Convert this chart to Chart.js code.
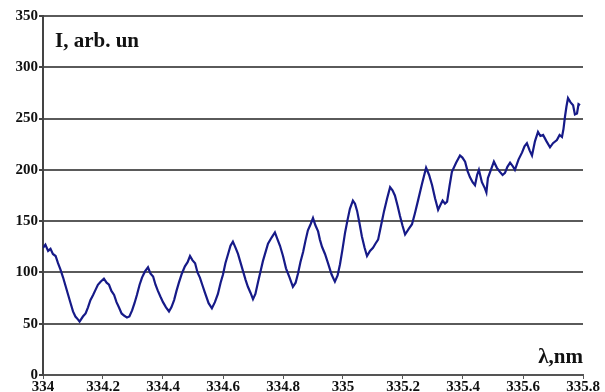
<!DOCTYPE html>
<html>
<head>
<meta charset="utf-8">
<script src="https://cdn.jsdelivr.net/npm/chart.js@4/dist/chart.umd.min.js"></script>
<style>
  html, body { margin: 0; padding: 0; background: #fff; }
  #wrap { width: 605px; height: 392px; }
</style>
</head>
<body>
<div id="wrap"><canvas id="spectrum"></canvas></div>
<script>
// wavelength, nm
const wavelength = [
    334.000, 334.008, 334.017, 334.025, 334.033, 334.042, 334.050, 334.058, 334.067, 334.075,
    334.083, 334.092, 334.100, 334.108, 334.117, 334.122, 334.133, 334.142, 334.150, 334.158,
    334.167, 334.175, 334.183, 334.192, 334.203, 334.212, 334.220, 334.228, 334.237, 334.245,
    334.253, 334.262, 334.270, 334.280, 334.288, 334.297, 334.305, 334.313, 334.322, 334.330,
    334.340, 334.350, 334.358, 334.367, 334.375, 334.383, 334.392, 334.400, 334.410, 334.420,
    334.428, 334.437, 334.445, 334.453, 334.463, 334.473, 334.482, 334.490, 334.498, 334.507,
    334.515, 334.523, 334.532, 334.540, 334.552, 334.563, 334.573, 334.583, 334.592, 334.600,
    334.608, 334.617, 334.625, 334.633, 334.642, 334.650, 334.658, 334.667, 334.675, 334.683,
    334.692, 334.700, 334.708, 334.717, 334.725, 334.733, 334.742, 334.750, 334.762, 334.773,
    334.782, 334.790, 334.800, 334.810, 334.822, 334.833, 334.842, 334.850, 334.858, 334.867,
    334.875, 334.883, 334.892, 334.900, 334.908, 334.917, 334.923, 334.930, 334.940, 334.950,
    334.962, 334.973, 334.982, 334.990, 334.998, 335.007, 335.015, 335.023, 335.033, 335.040,
    335.047, 335.055, 335.063, 335.072, 335.080, 335.090, 335.100, 335.108, 335.117, 335.127,
    335.137, 335.147, 335.157, 335.165, 335.173, 335.182, 335.190, 335.198, 335.207, 335.218,
    335.230, 335.240, 335.250, 335.263, 335.277, 335.287, 335.297, 335.307, 335.317, 335.325,
    335.332, 335.340, 335.347, 335.355, 335.363, 335.377, 335.390, 335.398, 335.407, 335.415,
    335.423, 335.432, 335.440, 335.447, 335.453, 335.463, 335.473, 335.478, 335.483, 335.493,
    335.503, 335.513, 335.523, 335.532, 335.540, 335.548, 335.557, 335.565, 335.573, 335.585,
    335.597, 335.605, 335.613, 335.622, 335.630, 335.640, 335.650, 335.658, 335.667, 335.678,
    335.690, 335.700, 335.713, 335.722, 335.730, 335.735, 335.740, 335.745, 335.750, 335.758,
    335.767, 335.773, 335.780, 335.785, 335.790
];

// intensity, arb. un
const intensity = [
    124, 127, 121, 123, 118, 116, 109, 103, 95, 87,
    79, 70, 62, 57, 54, 52, 57, 60, 66, 73,
    78, 83, 88, 91, 94, 90, 88, 82, 78, 71,
    66, 60, 58, 56, 57, 63, 70, 78, 88, 95,
    101, 105, 99, 96, 88, 82, 76, 71, 66, 62,
    66, 73, 82, 90, 99, 106, 110, 116, 112, 109,
    100, 95, 87, 80, 70, 65, 71, 79, 90, 98,
    109, 118, 126, 130, 124, 118, 110, 101, 93, 86,
    80, 74, 79, 91, 101, 111, 120, 128, 134, 139,
    132, 126, 116, 104, 95, 86, 90, 99, 110, 120,
    131, 141, 147, 153, 146, 140, 132, 125, 118, 109,
    98, 91, 97, 108, 122, 139, 151, 162, 170, 167,
    160, 148, 135, 124, 116, 121, 124, 128, 132, 146,
    160, 172, 183, 180, 175, 165, 155, 146, 137, 142,
    147, 158, 170, 186, 202, 195, 185, 172, 161, 166,
    170, 167, 169, 184, 198, 207, 214, 212, 208, 199,
    193, 188, 185, 195, 200, 188, 182, 178, 192, 200,
    208, 202, 198, 195, 197, 203, 207, 204, 200, 210,
    217, 223, 226, 219, 214, 228, 237, 233, 234, 228,
    222, 226, 229, 234, 232, 240, 252, 262, 270, 266,
    263, 254, 255, 264, 263
];

const yTicks = [0, 50, 100, 150, 200, 250, 300, 350];
const xTicks = [334, 334.2, 334.4, 334.6, 334.8, 335, 335.2, 335.4, 335.6, 335.8];

const yTitle = 'I, arb. un';
const xTitle = 'λ,nm';

const labelFont = { family: '"Liberation Serif", "DejaVu Serif", serif', size: 15, weight: 'bold' };

// axis captions sit inside the plot area
const captions = {
    id: 'captions',
    afterDraw(chart) {
        const { ctx, chartArea } = chart;
        ctx.save();
        ctx.fillStyle = '#111';
        ctx.font = 'bold 21px "Liberation Serif", "DejaVu Serif", serif';
        ctx.textBaseline = 'alphabetic';
        ctx.textAlign = 'left';
        ctx.fillText(yTitle, chartArea.left + 12, chartArea.top + 31);
        ctx.textAlign = 'right';
        ctx.fillText(xTitle, chartArea.right, chartArea.bottom - 12);
        ctx.restore();
    }
};

const points = wavelength.map((x, i) => ({ x: x, y: intensity[i] }));

const ctx = document.getElementById('spectrum').getContext('2d');
const spectrumChart = new Chart(ctx, {
    type: 'line',
    data: {
        datasets: [{
            data: points,
            borderColor: '#161a88',
            borderWidth: 2.2,
            pointRadius: 0,
            tension: 0,
            fill: false
        }]
    },
    options: {
        responsive: true,
        maintainAspectRatio: false,
        animation: false,
        layout: { padding: { top: 16, right: 22, left: 0, bottom: 0 } },
        plugins: {
            legend: { display: false },
            tooltip: { enabled: false }
        },
        scales: {
            x: {
                type: 'linear',
                min: 334,
                max: 335.8,
                afterBuildTicks: axis => { axis.ticks = xTicks.map(v => ({ value: v })); },
                afterFit: axis => { axis.height = 17; },
                border: { display: true, color: '#555', width: 2 },
                grid: { display: true, drawOnChartArea: false, drawTicks: true, tickLength: 4, color: '#555' },
                ticks: {
                    color: '#111',
                    font: labelFont,
                    padding: -1,
                    maxRotation: 0,
                    autoSkip: false,
                    callback: v => String(Number(v.toFixed(1)))
                }
            },
            y: {
                min: 0,
                max: 350,
                afterBuildTicks: axis => { axis.ticks = yTicks.map(v => ({ value: v })); },
                afterFit: axis => { axis.width = 43; },
                border: { display: true, color: '#444', width: 2 },
                grid: { color: '#5a5a5a', lineWidth: 2, tickLength: 4, tickColor: '#444' },
                ticks: {
                    color: '#111',
                    font: labelFont,
                    padding: 1
                }
            }
        }
    },
    plugins: [captions]
});
</script>
</body>
</html>
